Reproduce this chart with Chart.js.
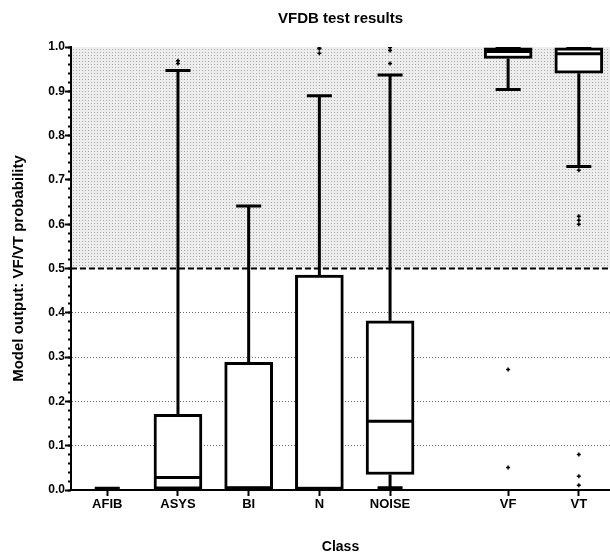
<!DOCTYPE html>
<html>
<head>
<meta charset="utf-8">
<script src="https://cdn.jsdelivr.net/npm/chart.js@4.4.1/dist/chart.umd.min.js"></script>
<style>html,body{margin:0;padding:0;background:#fff}canvas{display:block}</style>
</head>
<body>
<canvas id="c" width="610" height="554"></canvas>
<script>
// ---- data ----
const categories  = ['AFIB', 'ASYS', 'BI', 'N', 'NOISE', 'VF', 'VT'];
const xPositions  = [1, 2, 3, 4, 5, 6.67, 7.67];
const whiskerLow  = [0.004, 0.000, 0.000, 0.000, 0.005, 0.904, 0.730];
const q1          = [null,  0.002, 0.000, 0.000, 0.035, 0.974, 0.941];
const median      = [null,  0.028, 0.005, 0.003, 0.155, 0.990, 0.985];
const q3          = [null,  0.171, 0.288, 0.485, 0.382, 0.998, 0.998];
const whiskerHigh = [0.004, 0.947, 0.641, 0.890, 0.937, 1.000, 1.000];
const outliers = [
  [],
  [0.963, 0.969],
  [],
  [0.986, 0.996, 0.998],
  [0.963, 0.992, 0.999],
  [0.051, 0.272],
  [0.011, 0.031, 0.080, 0.600, 0.609, 0.618, 0.722]
];
const yTickValues = [0, 0.1, 0.2, 0.3, 0.4, 0.5, 0.6, 0.7, 0.8, 0.9, 1.0];
const threshold = 0.5;
const X_MIN = 0.487, X_MAX = 8.111;

// ---- build ----
const CAP_HALF = 0.177, BOX_HALF = 0.33;
const canvas = document.getElementById('c');
const ctx2d = canvas.getContext('2d');
function makePattern() {
  const p = document.createElement('canvas');
  p.width = 3; p.height = 3;
  const g = p.getContext('2d');
  g.fillStyle = '#ededed'; g.fillRect(0, 0, 3, 3);
  g.fillStyle = '#a8a8a8'; g.fillRect(1, 1, 1, 1);
  return ctx2d.createPattern(p, 'repeat');
}

const boxData = [];
const whiskerData = [];
const medianData = [];
const outlierData = [];
categories.forEach((c, i) => {
  const x = xPositions[i];
  const lo = whiskerLow[i], hi = whiskerHigh[i];
  const bLo = q1[i] == null ? lo : q1[i];
  const bHi = q3[i] == null ? hi : q3[i];
  if (q1[i] != null) boxData.push({x: x, y: [q1[i], q3[i]]});
  whiskerData.push({x: x, y: bHi}, {x: x, y: hi}, {x: x, y: null});
  whiskerData.push({x: x - CAP_HALF, y: hi}, {x: x + CAP_HALF, y: hi}, {x: x, y: null});
  whiskerData.push({x: x, y: bLo}, {x: x, y: lo}, {x: x, y: null});
  whiskerData.push({x: x - CAP_HALF, y: lo}, {x: x + CAP_HALF, y: lo}, {x: x, y: null});
  if (median[i] != null) {
    medianData.push({x: x - BOX_HALF, y: median[i]}, {x: x + BOX_HALF, y: median[i]}, {x: x, y: null});
  }
  outliers[i].forEach(v => outlierData.push({x: x, y: v}));
});

Chart.defaults.font.family = "'Liberation Sans', Arial, sans-serif";
Chart.defaults.font.weight = 'bold';
Chart.defaults.color = '#000';

new Chart(ctx2d, {
  type: 'scatter',
  data: {
    datasets: [
      { type: 'line', data: [{x: X_MIN, y: 1}, {x: X_MAX, y: 1}], fill: {value: threshold},
        backgroundColor: makePattern(), borderWidth: 0, pointRadius: 0, order: 10 },
      { type: 'line', data: [{x: X_MIN, y: threshold}, {x: X_MAX, y: threshold}],
        borderColor: '#000', borderWidth: 2, borderDash: [6, 3], pointRadius: 0, fill: false, order: 9 },
      { type: 'bar', data: boxData, barThickness: 48, borderWidth: 3, borderSkipped: false,
        borderColor: '#000', backgroundColor: '#fff', order: 5 },
      { type: 'line', data: whiskerData, borderColor: '#000', borderWidth: 3, pointRadius: 0,
        fill: false, spanGaps: false, tension: 0, borderCapStyle: 'butt', order: 4 },
      { type: 'line', data: medianData, borderColor: '#000', borderWidth: 3, pointRadius: 0,
        fill: false, spanGaps: false, tension: 0, borderCapStyle: 'butt', order: 3 },
      { type: 'scatter', data: outlierData, pointStyle: 'cross', pointRadius: 2,
        borderColor: '#000', borderWidth: 1.5, backgroundColor: '#000', order: 1 }
    ]
  },
  options: {
    responsive: false,
    animation: false,
    devicePixelRatio: 1,
    events: [],
    layout: { padding: 0, autoPadding: false },
    plugins: {
      legend: { display: false },
      tooltip: { enabled: false },
      title: { display: true, text: 'VFDB test results', fullSize: false,
        font: { size: 15, weight: 'bold' }, padding: { top: 10, bottom: 19 }, color: '#000' }
    },
    scales: {
      x: {
        type: 'linear', min: X_MIN, max: X_MAX, offset: false,
        afterBuildTicks: s => { s.ticks = xPositions.map(v => ({value: v})); },
        afterFit: s => { s.height = 64; s.paddingLeft = 0; s.paddingRight = 0; },
        ticks: { callback: (v, i) => categories[i], autoSkip: false, maxRotation: 0, padding: 1,
          font: { size: 13, weight: 'bold' }, color: '#000' },
        grid: { drawOnChartArea: false, tickLength: 6, tickColor: '#000', tickWidth: 2, offset: false },
        border: { color: '#000', width: 2, z: 1 },
        title: { display: true, text: 'Class', color: '#000',
          font: { size: 14, weight: 'bold', lineHeight: 1 }, padding: { top: 0, bottom: 0 } }
      },
      y: {
        type: 'linear', position: 'left', min: 0, max: 1, weight: 1,
        afterBuildTicks: s => { s.ticks = yTickValues.map(v => ({value: v})); },
        afterFit: s => { s.width = 71; s.paddingTop = 0; s.paddingBottom = 0; },
        ticks: { callback: v => v.toFixed(1), padding: 0, autoSkip: false,
          font: { size: 12, weight: 'bold' }, color: '#000' },
        grid: {
          color: c => (c.tick && c.tick.value > 0.05 && c.tick.value < 0.45) ? '#666' : 'rgba(0,0,0,0)',
          lineWidth: 1, tickLength: 6, tickColor: '#000', tickWidth: 2
        },
        border: { color: '#000', width: 2, dash: [1, 2], z: 1 },
        title: { display: true, text: 'Model output: VF/VT probability', color: '#000',
          font: { size: 15, weight: 'bold' }, padding: { top: 9.5, bottom: 0 } }
      },
      yMinor: {
        type: 'linear', position: 'left', min: 0, max: 1, weight: 0,
        afterBuildTicks: s => { const t = []; for (let k = 0; k <= 50; k++) t.push({value: k / 50}); s.ticks = t; },
        afterFit: s => { s.width = 0; s.paddingTop = 0; s.paddingBottom = 0; },
        ticks: { display: false },
        grid: { drawOnChartArea: false, tickLength: 3, tickColor: '#000', tickWidth: 2 },
        border: { display: false }
      }
    }
  }
});
</script>
</body>
</html>
